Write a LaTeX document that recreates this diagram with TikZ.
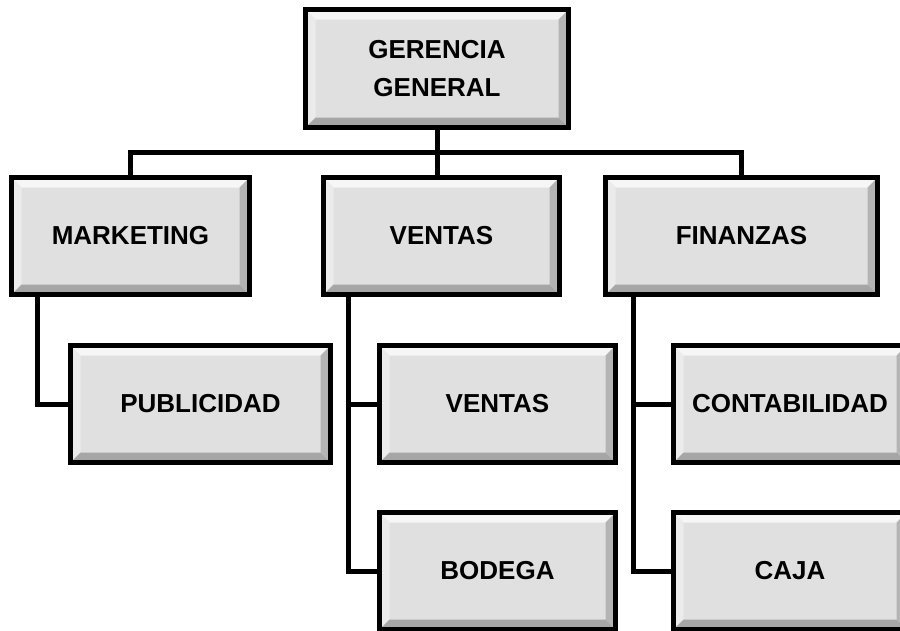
\documentclass[tikz,border=0pt]{standalone}
\usepackage{fontspec}
\setmainfont{Liberation Sans}
\definecolor{face}{HTML}{E0E0E0}
\definecolor{bevtop}{HTML}{F6F6F6}
\definecolor{bevleft}{HTML}{EBEBEB}
\definecolor{bevright}{HTML}{B4B4B4}
\definecolor{bevbottom}{HTML}{A6A6A6}
\tikzset{
  bevelbox/.style={draw=black, line width=5pt, fill=face, minimum width=#1,
    minimum height=117pt, inner sep=0pt, align=center,
    font=\bfseries\fontsize{26}{38}\selectfont,
    path picture={
      \fill[bevtop] (path picture bounding box.north west) -- (path picture bounding box.north east)
        -- ([shift={(-10pt,-10pt)}]path picture bounding box.north east)
        -- ([shift={(10pt,-10pt)}]path picture bounding box.north west) -- cycle;
      \fill[bevleft] (path picture bounding box.north west) -- (path picture bounding box.south west)
        -- ([shift={(10pt,10pt)}]path picture bounding box.south west)
        -- ([shift={(10pt,-10pt)}]path picture bounding box.north west) -- cycle;
      \fill[bevright] (path picture bounding box.north east) -- (path picture bounding box.south east)
        -- ([shift={(-10pt,10pt)}]path picture bounding box.south east)
        -- ([shift={(-10pt,-10pt)}]path picture bounding box.north east) -- cycle;
      \fill[bevbottom] (path picture bounding box.south west) -- (path picture bounding box.south east)
        -- ([shift={(-10pt,10pt)}]path picture bounding box.south east)
        -- ([shift={(10pt,10pt)}]path picture bounding box.south west) -- cycle;
    }},
  link/.style={line width=5pt, line join=miter}
}
\begin{document}
\begin{tikzpicture}[x=1pt, y=-1pt]
    \clip (0, 0) rectangle (900, 630);
    \node[bevelbox=263pt, minimum height=118pt] (Gerencia) at (437, 68.5) {GERENCIA\\GENERAL};
    \node[bevelbox=238pt] (Marketing) at (130.5, 236) {MARKETING};
    \node[bevelbox=236pt] (Ventas) at (441.5, 236) {VENTAS};
    \node[bevelbox=272pt] (Finanzas) at (741.5, 236) {FINANZAS};
    \node[bevelbox=260pt] (Publicidad) at (200.5, 404) {PUBLICIDAD};
    \node[bevelbox=236pt] (Ventas Sub) at (497.5, 404) {VENTAS};
    \node[bevelbox=236pt] (Bodega) at (497.5, 571) {BODEGA};
    \node[bevelbox=233pt] (Contabilidad) at (790, 404) {CONTABILIDAD};
    \node[bevelbox=233pt] (Caja) at (790, 571) {CAJA};
    \draw[link] (Gerencia.south) -- (Gerencia.south |- Ventas.north);
    \draw[link] (Gerencia.south) -- ++(0, 22) -| (Marketing.north);
    \draw[link] (Gerencia.south) -- ++(0, 22) -| (Finanzas.north);
    \draw[link] ([xshift=28pt]Marketing.south west) |- (Publicidad.west);
    \draw[link] ([xshift=27pt]Ventas.south west) |- (Ventas Sub.west);
    \draw[link] ([xshift=27pt]Ventas.south west) |- (Bodega.west);
    \draw[link] ([xshift=30pt]Finanzas.south west) |- (Contabilidad.west);
    \draw[link] ([xshift=30pt]Finanzas.south west) |- (Caja.west);
\end{tikzpicture}
\end{document}
